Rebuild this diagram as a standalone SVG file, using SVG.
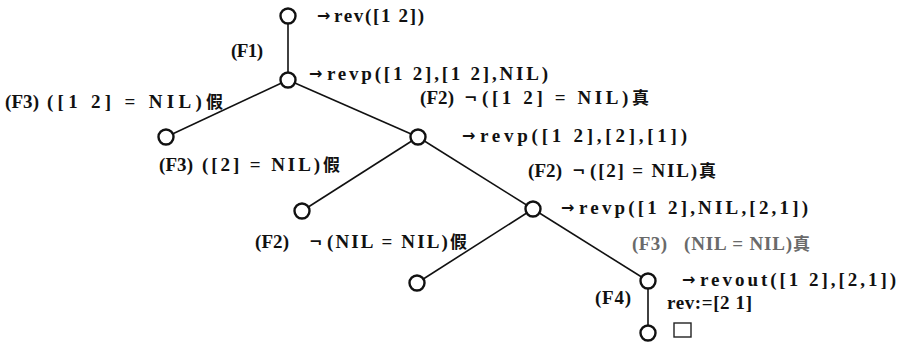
<svg xmlns="http://www.w3.org/2000/svg" width="902" height="342" viewBox="0 0 902 342">
  <style>
    .edge { stroke: #111; stroke-width: 1.6; fill: none; }
    .node { fill: #fff; stroke: #111; stroke-width: 2.4; }
    text { font-family: "Liberation Serif", "Noto Sans CJK SC", serif; font-size: 19px; font-weight: bold; fill: #111; white-space: pre; }
    .cj { font-family: "Noto Sans CJK SC", sans-serif; font-size: 17px; }
    .sym { font-family: "DejaVu Sans", sans-serif; font-size: 16px; font-weight: bold; }
    .dim { fill: #6a6a6a; }
  </style>
  <rect width="902" height="342" fill="#fff"/>

  <!-- connectors -->
  <g id="connectors">
    <line class="edge" x1="288" y1="16" x2="288" y2="80"/>
    <line class="edge" x1="288" y1="80" x2="166" y2="137"/>
    <line class="edge" x1="288" y1="80" x2="418" y2="137"/>
    <line class="edge" x1="418" y1="137" x2="302" y2="211"/>
    <line class="edge" x1="418" y1="137" x2="533" y2="209"/>
    <line class="edge" x1="533" y1="209" x2="417" y2="283"/>
    <line class="edge" x1="533" y1="209" x2="648" y2="281"/>
    <line class="edge" x1="648" y1="281" x2="648" y2="333"/>
  </g>

  <!-- nodes -->
  <g id="n0"><circle class="node" cx="288" cy="16" r="7.5"/></g>
  <g id="n1"><circle class="node" cx="288" cy="80" r="7.5"/></g>
  <g id="n2"><circle class="node" cx="166" cy="137" r="7.5"/></g>
  <g id="n3"><circle class="node" cx="418" cy="137" r="7.5"/></g>
  <g id="n4"><circle class="node" cx="302" cy="211" r="7.5"/></g>
  <g id="n5"><circle class="node" cx="533" cy="209" r="7.5"/></g>
  <g id="n6"><circle class="node" cx="417" cy="283" r="7.5"/></g>
  <g id="n7"><circle class="node" cx="648" cy="281" r="7.5"/></g>
  <g id="n8"><circle class="node" cx="648" cy="333" r="7.5"/></g>
  <g id="box"><rect x="674" y="323" width="17" height="14" fill="none" stroke="#222" stroke-width="1.4"/></g>

  <!-- call labels -->
  <g id="call-rev">
    <text class="sym" x="317" y="21">→</text>
    <text x="334" y="22" textLength="90" lengthAdjust="spacing">rev([1 2])</text>
  </g>
  <g id="call-revp1">
    <text class="sym" x="309" y="79">→</text>
    <text x="327" y="80" textLength="221" lengthAdjust="spacing">revp([1 2],[1 2],NIL)</text>
  </g>
  <g id="call-revp2">
    <text class="sym" x="462" y="141">→</text>
    <text x="480" y="142" textLength="207" lengthAdjust="spacing">revp([1 2],[2],[1])</text>
  </g>
  <g id="call-revp3">
    <text class="sym" x="561" y="213">→</text>
    <text x="579" y="214" textLength="229" lengthAdjust="spacing">revp([1 2],NIL,[2,1])</text>
  </g>
  <g id="call-revout">
    <text class="sym" x="682" y="285">→</text>
    <text x="700" y="286" textLength="196" lengthAdjust="spacing">revout([1 2],[2,1])</text>
  </g>
  <g id="result">
    <text x="667" y="309" textLength="85" lengthAdjust="spacing">rev:=[2 1]</text>
  </g>

  <!-- rule labels -->
  <g id="rule-f1"><text x="231" y="57" textLength="32" lengthAdjust="spacing">(F1)</text></g>
  <g id="rule-f4"><text x="595" y="304" textLength="36" lengthAdjust="spacing">(F4)</text></g>
  <g id="cond-1">
    <text x="5" y="108" textLength="34" lengthAdjust="spacing">(F3)</text>
    <text x="47" y="108" textLength="176" lengthAdjust="spacing">([1 2] = NIL)<tspan class="cj">假</tspan></text>
  </g>
  <g id="cond-2">
    <text x="420" y="104" textLength="34" lengthAdjust="spacing">(F2)</text>
    <text class="sym" x="464" y="103">¬</text>
    <text x="482" y="104" textLength="167" lengthAdjust="spacing">([1 2] = NIL)<tspan class="cj">真</tspan></text>
  </g>
  <g id="cond-3">
    <text x="159" y="171" textLength="34" lengthAdjust="spacing">(F3)</text>
    <text x="202" y="171" textLength="138" lengthAdjust="spacing">([2] = NIL)<tspan class="cj">假</tspan></text>
  </g>
  <g id="cond-4">
    <text x="528" y="177" textLength="34" lengthAdjust="spacing">(F2)</text>
    <text class="sym" x="572" y="176">¬</text>
    <text x="590" y="177" textLength="126" lengthAdjust="spacing">([2] = NIL)<tspan class="cj">真</tspan></text>
  </g>
  <g id="cond-5">
    <text x="255" y="248" textLength="34" lengthAdjust="spacing">(F2)</text>
    <text class="sym" x="309" y="247">¬</text>
    <text x="327" y="248" textLength="140" lengthAdjust="spacing">(NIL = NIL)<tspan class="cj">假</tspan></text>
  </g>
  <g id="cond-6">
    <text class="dim" x="632" y="250" textLength="35" lengthAdjust="spacing">(F3)</text>
    <text class="dim" x="684" y="250" textLength="126" lengthAdjust="spacing">(NIL = NIL)<tspan class="cj">真</tspan></text>
  </g>
</svg>
